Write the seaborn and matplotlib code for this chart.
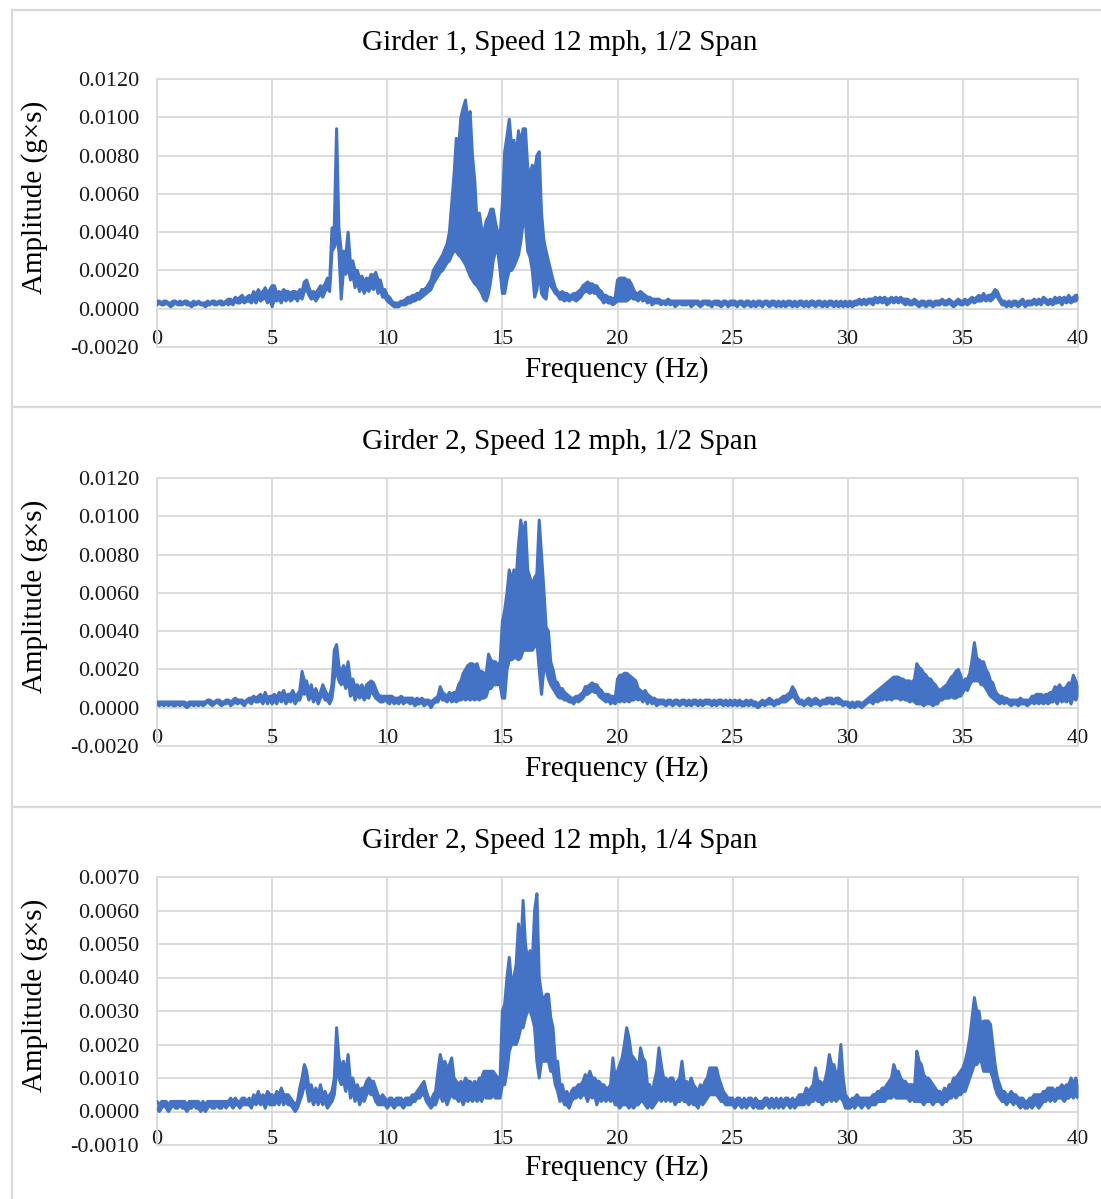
import numpy as np
import pandas as pd
import matplotlib
matplotlib.use("Agg")
import matplotlib.pyplot as plt
from matplotlib.lines import Line2D
from matplotlib.ticker import FuncFormatter
import seaborn as sns

# Frequency bins, 0.1 Hz spacing from 0 to 40 Hz
freq_hz = np.round(np.arange(0, 401) * 0.1, 1)

# FFT amplitude range inside each 0.1 Hz bin (max and min), in units of 1e-4 g*s.
# One row per 1 Hz (10 bins); the last value is the 40 Hz bin.
g1_half_hi = [
    4, 4, 3, 4, 4, 3, 3, 4, 4, 3,
    4, 3, 4, 4, 3, 3, 4, 3, 4, 3,
    3, 3, 4, 3, 4, 4, 3, 4, 4, 3,
    4, 5, 5, 4, 6, 5, 6, 7, 5, 6,
    7, 6, 9, 7, 10, 8, 9, 11, 8, 10,
    12, 12, 8, 9, 8, 10, 9, 9, 8, 9,
    9, 8, 10, 9, 14, 15, 11, 8, 9, 8,
    10, 12, 11, 13, 16, 14, 42, 43, 94, 42,
    30, 30, 28, 40, 24, 25, 20, 20, 16, 17,
    14, 16, 15, 18, 17, 19, 15, 15, 10, 10,
    7, 6, 4, 3, 3, 3, 4, 4, 5, 6,
    6, 7, 7, 8, 8, 10, 10, 11, 13, 15,
    20, 22, 24, 26, 28, 31, 34, 40, 55, 70,
    89, 85, 100, 105, 109, 98, 103, 80, 67, 45,
    50, 42, 40, 46, 48, 52, 52, 45, 40, 38,
    55, 82, 90, 99, 85, 88, 80, 93, 86, 94,
    94, 74, 70, 75, 72, 80, 82, 50, 36, 30,
    25, 20, 15, 11, 9, 8, 9, 8, 8, 7,
    7, 8, 8, 9, 10, 12, 13, 14, 13, 13,
    12, 12, 10, 9, 7, 7, 6, 6, 5, 6,
    15, 16, 16, 16, 15, 15, 13, 10, 8, 8,
    9, 8, 7, 6, 6, 5, 5, 5, 5, 4,
    4, 4, 5, 4, 4, 4, 4, 4, 4, 4,
    4, 4, 4, 4, 4, 4, 3, 4, 4, 4,
    4, 3, 4, 4, 4, 3, 4, 4, 3, 4,
    4, 4, 3, 4, 4, 3, 4, 4, 3, 4,
    3, 4, 4, 3, 4, 4, 3, 4, 4, 3,
    4, 3, 4, 3, 4, 4, 3, 4, 3, 4,
    4, 3, 4, 3, 4, 4, 3, 4, 4, 3,
    4, 3, 4, 4, 3, 4, 3, 4, 3, 4,
    3, 4, 3, 4, 4, 5, 4, 5, 4, 5,
    5, 5, 6, 5, 6, 5, 6, 5, 5, 6,
    5, 6, 5, 6, 5, 5, 5, 4, 4, 5,
    4, 3, 4, 4, 3, 4, 4, 3, 4, 4,
    4, 5, 4, 4, 5, 4, 3, 4, 5, 4,
    4, 5, 4, 5, 6, 5, 6, 7, 6, 8,
    6, 7, 7, 8, 10, 9, 6, 4, 4, 3,
    4, 3, 4, 4, 3, 4, 5, 3, 4, 4,
    4, 5, 4, 5, 4, 6, 5, 4, 5, 4,
    6, 5, 6, 5, 6, 5, 7, 5, 6, 7,
    7,
]
g1_half_lo = [
    2, 3, 2, 2, 3, 2, 1, 2, 3, 2,
    2, 2, 3, 2, 2, 1, 2, 2, 3, 2,
    2, 1, 2, 2, 3, 2, 2, 3, 2, 2,
    3, 2, 3, 2, 4, 3, 3, 4, 3, 4,
    4, 3, 5, 3, 6, 4, 5, 6, 3, 5,
    1, 5, 4, 5, 3, 6, 4, 6, 4, 5,
    6, 4, 7, 5, 9, 10, 7, 5, 6, 4,
    6, 8, 6, 9, 11, 9, 30, 32, 38, 30,
    5, 20, 18, 22, 15, 18, 11, 14, 9, 12,
    8, 11, 9, 12, 10, 13, 8, 10, 6, 6,
    4, 3, 2, 1, 1, 1, 2, 2, 2, 3,
    3, 4, 4, 5, 5, 6, 7, 8, 9, 10,
    13, 15, 17, 19, 20, 22, 24, 25, 28, 30,
    30, 28, 27, 25, 23, 20, 17, 15, 13, 12,
    10, 8, 5, 4, 8, 15, 25, 30, 30, 20,
    8, 8, 15, 20, 20, 22, 25, 28, 35, 45,
    45, 30, 27, 20, 6, 10, 20, 8, 6, 5,
    15, 12, 10, 8, 7, 5, 5, 4, 5, 4,
    5, 5, 4, 5, 6, 8, 9, 9, 8, 9,
    8, 8, 6, 5, 3, 4, 3, 3, 2, 3,
    4, 4, 4, 4, 4, 5, 6, 5, 5, 4,
    6, 4, 5, 3, 4, 2, 3, 3, 3, 2,
    3, 2, 3, 2, 3, 1, 2, 3, 2, 2,
    2, 3, 1, 2, 3, 2, 1, 2, 3, 2,
    2, 1, 3, 2, 2, 1, 2, 3, 1, 2,
    2, 2, 1, 3, 2, 1, 2, 2, 1, 2,
    1, 2, 2, 1, 3, 2, 1, 2, 2, 1,
    2, 1, 2, 1, 2, 2, 1, 2, 1, 2,
    2, 1, 2, 1, 2, 2, 1, 2, 2, 1,
    2, 1, 2, 2, 1, 2, 1, 2, 1, 2,
    1, 2, 1, 2, 2, 3, 2, 3, 2, 3,
    3, 2, 4, 3, 4, 3, 4, 2, 3, 4,
    3, 4, 3, 4, 3, 2, 3, 2, 2, 3,
    2, 1, 2, 2, 1, 2, 2, 1, 2, 2,
    2, 3, 2, 2, 3, 2, 1, 2, 3, 2,
    2, 3, 2, 3, 4, 3, 4, 4, 4, 5,
    4, 5, 4, 5, 7, 6, 4, 2, 2, 1,
    2, 1, 2, 2, 1, 2, 3, 1, 2, 2,
    2, 3, 2, 3, 2, 4, 3, 2, 3, 2,
    3, 3, 4, 2, 4, 3, 4, 3, 4, 4,
    5,
]

g2_half_hi = [
    3, 3, 3, 3, 3, 3, 3, 3, 3, 3,
    3, 3, 3, 2, 3, 3, 3, 3, 3, 3,
    3, 3, 4, 4, 3, 3, 4, 4, 3, 3,
    4, 4, 3, 4, 5, 4, 4, 4, 3, 4,
    5, 5, 6, 5, 6, 7, 5, 8, 5, 6,
    6, 7, 5, 8, 7, 9, 6, 7, 7, 9,
    6, 7, 9, 19, 14, 14, 8, 12, 7, 10,
    6, 8, 12, 9, 7, 6, 12, 30, 33, 22,
    18, 22, 17, 24, 14, 15, 11, 12, 10, 12,
    8, 12, 13, 14, 13, 10, 7, 6, 6, 6,
    6, 6, 6, 5, 5, 5, 6, 5, 5, 5,
    5, 5, 4, 5, 4, 5, 4, 4, 4, 3,
    4, 5, 6, 11, 8, 7, 6, 8, 7, 8,
    8, 12, 14, 18, 20, 22, 23, 23, 22, 23,
    19, 19, 18, 18, 28, 25, 24, 24, 22, 24,
    45, 51, 60, 72, 66, 72, 68, 85, 98, 90,
    97, 72, 68, 64, 68, 70, 98, 80, 62, 42,
    40, 24, 20, 14, 13, 10, 10, 8, 7, 6,
    5, 5, 6, 6, 7, 8, 11, 11, 12, 13,
    12, 12, 10, 9, 7, 7, 7, 6, 6, 5,
    15, 17, 17, 18, 18, 17, 16, 15, 14, 10,
    9, 8, 9, 7, 6, 5, 5, 4, 4, 4,
    4, 3, 4, 4, 3, 4, 4, 3, 4, 4,
    3, 4, 3, 4, 4, 3, 4, 3, 4, 4,
    4, 3, 4, 3, 4, 4, 3, 4, 3, 4,
    3, 4, 3, 4, 3, 3, 4, 3, 4, 3,
    3, 2, 3, 4, 3, 4, 5, 4, 3, 4,
    4, 5, 6, 6, 7, 8, 11, 9, 6, 4,
    4, 3, 4, 5, 4, 4, 5, 4, 3, 4,
    4, 5, 5, 5, 4, 5, 5, 4, 3, 3,
    3, 2, 3, 2, 3, 3, 2, 3, 4, 5,
    6, 7, 8, 9, 10, 11, 12, 13, 14, 15,
    16, 16, 16, 15, 15, 14, 14, 14, 13, 15,
    23, 21, 20, 18, 17, 15, 15, 13, 12, 10,
    9, 10, 11, 12, 14, 16, 17, 19, 20, 17,
    12, 15, 15, 18, 25, 34, 26, 25, 24, 24,
    20, 18, 14, 13, 9, 7, 6, 6, 5, 5,
    4, 4, 4, 4, 4, 5, 4, 4, 4, 4,
    6, 6, 7, 7, 7, 6, 7, 7, 8, 8,
    11, 10, 12, 10, 10, 11, 13, 12, 17, 14,
    12,
]
g2_half_lo = [
    2, 1, 2, 1, 2, 1, 2, 1, 1, 2,
    1, 2, 1, 0, 1, 2, 1, 2, 1, 2,
    1, 2, 3, 2, 1, 2, 3, 2, 1, 2,
    2, 3, 1, 2, 3, 2, 3, 2, 1, 3,
    3, 2, 4, 3, 3, 4, 2, 5, 2, 4,
    2, 4, 2, 5, 3, 5, 2, 4, 3, 5,
    2, 4, 4, 8, 7, 8, 4, 7, 3, 6,
    2, 5, 7, 4, 4, 2, 5, 15, 20, 14,
    12, 14, 10, 15, 6, 9, 4, 7, 5, 7,
    4, 6, 5, 9, 7, 5, 4, 3, 3, 4,
    3, 2, 4, 2, 3, 2, 4, 2, 3, 3,
    2, 3, 1, 2, 2, 3, 1, 2, 2, 0,
    2, 3, 3, 6, 4, 4, 3, 5, 3, 4,
    3, 4, 4, 5, 4, 5, 4, 5, 4, 5,
    4, 5, 5, 6, 10, 10, 12, 12, 12, 12,
    5, 5, 20, 25, 25, 26, 26, 25, 26, 30,
    30, 30, 30, 30, 32, 34, 20, 7, 20, 20,
    15, 12, 10, 8, 6, 5, 5, 4, 4, 3,
    3, 2, 4, 3, 4, 5, 7, 7, 8, 9,
    8, 8, 6, 5, 4, 3, 4, 2, 3, 2,
    4, 3, 4, 3, 4, 3, 4, 4, 5, 4,
    5, 3, 5, 2, 4, 2, 3, 1, 2, 2,
    2, 1, 2, 2, 1, 2, 2, 1, 2, 2,
    1, 2, 1, 2, 2, 1, 2, 1, 2, 2,
    2, 1, 2, 1, 2, 2, 1, 2, 1, 2,
    1, 2, 1, 2, 1, 1, 2, 1, 2, 1,
    1, 0, 1, 2, 1, 2, 2, 2, 1, 2,
    2, 3, 3, 3, 4, 5, 6, 5, 3, 2,
    2, 1, 2, 2, 1, 2, 2, 2, 1, 2,
    2, 2, 3, 2, 2, 3, 2, 2, 1, 2,
    1, 0, 1, 0, 1, 1, 0, 1, 2, 3,
    3, 2, 4, 3, 4, 4, 5, 4, 5, 4,
    5, 5, 5, 4, 5, 4, 4, 3, 4, 3,
    2, 2, 2, 1, 2, 2, 2, 1, 2, 2,
    4, 4, 5, 5, 5, 6, 5, 5, 6, 6,
    8, 10, 9, 12, 14, 14, 14, 14, 12, 12,
    10, 8, 6, 5, 4, 3, 2, 3, 2, 3,
    2, 1, 2, 2, 1, 2, 2, 2, 1, 2,
    3, 2, 3, 2, 3, 2, 3, 2, 3, 3,
    4, 2, 5, 3, 4, 3, 5, 2, 6, 4,
    6,
]

g2_quarter_hi = [
    3, 2, 3, 3, 3, 2, 3, 3, 3, 3,
    3, 3, 3, 2, 3, 3, 3, 3, 3, 2,
    3, 2, 3, 3, 3, 3, 3, 3, 3, 3,
    3, 3, 4, 3, 4, 3, 3, 4, 4, 3,
    4, 3, 5, 4, 6, 4, 5, 4, 6, 5,
    5, 4, 6, 5, 7, 5, 5, 5, 4, 3,
    2, 3, 7, 10, 14, 12, 7, 8, 5, 7,
    5, 8, 5, 6, 4, 5, 6, 10, 25, 16,
    13, 15, 11, 17, 9, 10, 7, 8, 6, 7,
    7, 9, 10, 9, 9, 7, 5, 4, 5, 4,
    3, 4, 4, 3, 4, 4, 4, 3, 4, 4,
    4, 5, 5, 6, 7, 8, 9, 6, 4, 3,
    5, 6, 12, 17, 14, 15, 13, 14, 16, 10,
    9, 8, 9, 8, 10, 9, 9, 8, 9, 8,
    10, 10, 12, 12, 12, 12, 12, 11, 10, 10,
    30, 32, 40, 46, 38, 40, 44, 56, 48, 63,
    50, 45, 48, 44, 60, 65, 40, 35, 33, 35,
    35, 28, 25, 15, 15, 8, 8, 5, 6, 4,
    6, 7, 7, 8, 8, 9, 11, 10, 12, 10,
    10, 9, 9, 8, 8, 7, 7, 8, 16, 10,
    12, 14, 16, 20, 25, 22, 17, 16, 15, 12,
    19, 16, 15, 8, 8, 5, 9, 12, 19, 14,
    10, 10, 9, 10, 10, 8, 9, 10, 15, 9,
    9, 8, 10, 8, 7, 6, 8, 7, 9, 10,
    13, 13, 13, 13, 10, 8, 6, 5, 4, 4,
    4, 3, 4, 4, 3, 4, 3, 4, 4, 3,
    4, 3, 3, 3, 4, 4, 3, 4, 3, 4,
    3, 4, 3, 4, 4, 3, 4, 3, 4, 5,
    5, 5, 7, 6, 7, 8, 13, 9, 9, 8,
    9, 12, 17, 14, 14, 11, 12, 20, 10, 5,
    4, 3, 4, 4, 5, 4, 4, 4, 4, 4,
    4, 5, 5, 6, 6, 7, 7, 8, 9, 10,
    14, 12, 12, 10, 9, 9, 8, 8, 8, 7,
    18, 15, 14, 11, 10, 10, 9, 8, 7, 6,
    6, 5, 7, 6, 8, 8, 10, 10, 11, 12,
    13, 15, 18, 22, 28, 34, 30, 30, 25, 27,
    27, 27, 26, 20, 14, 10, 8, 6, 6, 5,
    5, 6, 5, 5, 4, 4, 4, 3, 3, 4,
    4, 5, 5, 5, 5, 6, 6, 7, 7, 7,
    6, 7, 7, 8, 7, 8, 8, 10, 8, 10,
    8,
]
g2_quarter_lo = [
    1, 0, 1, 2, 1, 0, 1, 2, 1, 1,
    2, 1, 1, 0, 1, 1, 2, 1, 1, 0,
    1, 0, 1, 2, 1, 1, 2, 1, 1, 2,
    1, 2, 2, 1, 2, 2, 1, 2, 2, 2,
    2, 1, 3, 2, 3, 2, 3, 1, 3, 2,
    2, 2, 3, 2, 4, 2, 3, 2, 2, 1,
    0, 1, 3, 5, 8, 7, 3, 4, 2, 4,
    2, 4, 2, 3, 1, 2, 3, 5, 12, 10,
    8, 9, 6, 10, 4, 6, 3, 5, 2, 4,
    3, 5, 6, 5, 5, 3, 2, 2, 2, 2,
    1, 2, 2, 1, 2, 2, 2, 1, 2, 2,
    2, 3, 3, 4, 4, 5, 5, 3, 2, 1,
    2, 2, 4, 5, 3, 4, 2, 4, 5, 4,
    4, 3, 4, 2, 4, 3, 4, 3, 4, 3,
    4, 3, 5, 4, 4, 4, 5, 4, 4, 4,
    8, 8, 12, 18, 20, 20, 20, 22, 25, 25,
    28, 30, 30, 28, 25, 15, 10, 15, 15, 15,
    15, 12, 12, 8, 6, 3, 4, 2, 2, 1,
    3, 4, 4, 5, 4, 5, 5, 3, 5, 4,
    5, 2, 4, 3, 4, 3, 4, 3, 4, 2,
    2, 1, 2, 2, 2, 1, 2, 1, 2, 2,
    3, 3, 2, 1, 2, 1, 2, 3, 4, 3,
    4, 3, 4, 3, 4, 2, 3, 3, 4, 3,
    3, 2, 3, 2, 2, 1, 3, 2, 3, 4,
    5, 5, 5, 5, 4, 3, 3, 2, 2, 2,
    2, 1, 2, 2, 1, 2, 1, 2, 2, 1,
    2, 1, 1, 1, 2, 2, 1, 2, 1, 2,
    1, 2, 1, 2, 2, 1, 2, 1, 2, 2,
    2, 2, 3, 2, 3, 3, 4, 3, 3, 2,
    3, 3, 4, 3, 4, 3, 4, 4, 3, 1,
    1, 1, 2, 1, 2, 2, 1, 2, 2, 1,
    2, 2, 2, 3, 3, 3, 3, 4, 4, 4,
    5, 4, 4, 4, 4, 4, 4, 3, 4, 3,
    3, 3, 3, 2, 3, 3, 3, 2, 3, 3,
    3, 2, 3, 3, 4, 4, 5, 4, 5, 5,
    6, 6, 8, 10, 12, 14, 14, 15, 15, 12,
    12, 12, 12, 10, 7, 5, 4, 3, 3, 2,
    3, 3, 2, 3, 2, 1, 2, 1, 1, 2,
    1, 2, 2, 1, 2, 3, 3, 4, 3, 4,
    3, 4, 4, 4, 3, 4, 4, 5, 4, 5,
    4,
]

titles = [
    "Girder 1, Speed 12 mph, 1/2 Span",
    "Girder 2, Speed 12 mph, 1/2 Span",
    "Girder 2, Speed 12 mph, 1/4 Span",
]
x_ticks = [0, 5, 10, 15, 20, 25, 30, 35, 40]
y_ticks_half = [-0.002, 0.0, 0.002, 0.004, 0.006, 0.008, 0.010, 0.012]
y_ticks_quarter = [-0.001, 0.0, 0.001, 0.002, 0.003, 0.004, 0.005, 0.006, 0.007]

series = [
    (g1_half_hi, g1_half_lo),
    (g2_half_hi, g2_half_lo),
    (g2_quarter_hi, g2_quarter_lo),
]
y_ticks_all = [y_ticks_half, y_ticks_half, y_ticks_quarter]

sns.set_theme(style="white")
plt.rcParams["font.family"] = ["Liberation Serif", "DejaVu Serif"]
plt.rcParams["axes.unicode_minus"] = False

W, H = 1101, 1199
fig = plt.figure(figsize=(W / 100, H / 100), dpi=100)

LINE_BLUE = "#4472C4"
GRID = "#d9d9d9"
TEXT = "#1a1a1a"


def fig_line(x0, y0, x1, y1):
    """Light frame line given in pixel coordinates from the top-left corner."""
    fig.add_artist(Line2D([x0 / W, x1 / W], [1 - y0 / H, 1 - y1 / H],
                          transform=fig.transFigure, color=GRID, lw=1.6))


# Chart frames
fig_line(12, 10, 1101, 10)
fig_line(12, 10, 12, 1199)
fig_line(12, 407, 1101, 407)
fig_line(12, 807, 1101, 807)

plot_left, plot_right = 157, 1078
panel_offsets = [0, 399, 798]

for i, ((hi, lo), yt, title, off) in enumerate(zip(series, y_ticks_all, titles, panel_offsets)):
    top = 79 + off
    bottom = 347 + off
    ax = fig.add_axes([plot_left / W, 1 - bottom / H,
                       (plot_right - plot_left) / W, (bottom - top) / H])
    df = pd.DataFrame({
        "freq": freq_hz,
        "hi": np.asarray(hi, dtype=float) * 1e-4,
        "lo": np.asarray(lo, dtype=float) * 1e-4,
    })
    # spread of the dense spectrum inside each bin
    ax.fill_between(df["freq"], df["lo"], df["hi"], color=LINE_BLUE, lw=0, zorder=3)
    sns.lineplot(data=df, x="freq", y="hi", ax=ax, color=LINE_BLUE,
                 lw=2.2, estimator=None, sort=False, zorder=4)
    sns.lineplot(data=df, x="freq", y="lo", ax=ax, color=LINE_BLUE,
                 lw=2.2, estimator=None, sort=False, zorder=4)
    ax.set_xlim(0, 40)
    ax.set_ylim(yt[0], yt[-1])
    ax.set_xticks(x_ticks)
    ax.set_xticklabels([str(t) for t in x_ticks])
    ax.set_yticks(yt)
    ax.yaxis.set_major_formatter(FuncFormatter(lambda v, _: f"{v:.4f}"))
    ax.grid(True, color=GRID, lw=1.3, zorder=0)
    ax.set_axisbelow(True)
    for s in ax.spines.values():
        s.set_color(GRID)
        s.set_linewidth(1.3)
    ax.tick_params(length=0, labelsize=16, colors=TEXT)
    ax.tick_params(axis="y", pad=13)
    ax.tick_params(axis="x", pad=(-12.5 if i < 2 else -10.5))
    ax.set_xlabel("")
    ax.set_ylabel("")

    fig.text(560 / W, 1 - (50 + off) / H, title, ha="center", va="baseline",
             fontsize=21, color="black")
    fig.text(617 / W, 1 - (377 + off) / H, "Frequency (Hz)", ha="center",
             va="baseline", fontsize=21, color="black")
    fig.text(35 / W, 1 - (197 + off) / H, "Amplitude (g×s)", ha="center",
             va="center", rotation=90, fontsize=21, color="black")

fig.savefig("out.png", dpi=100, facecolor="white")
